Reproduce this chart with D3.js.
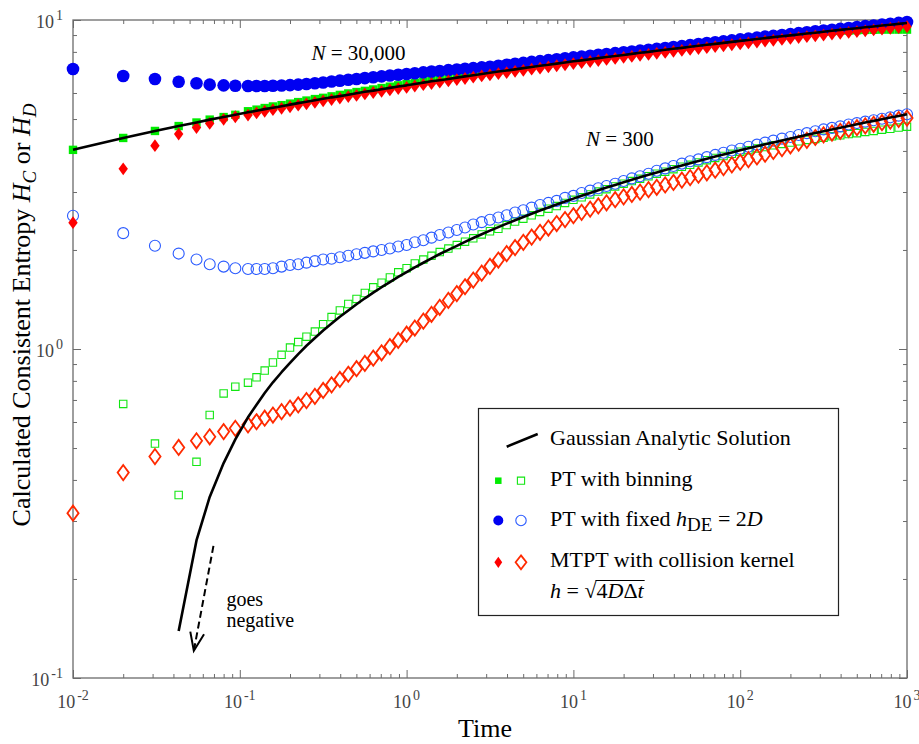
<!DOCTYPE html>
<html>
<head>
<meta charset="utf-8">
<script src="https://cdn.jsdelivr.net/npm/d3@7"></script>
<style>
  html, body { margin: 0; padding: 0; background: #fff; }
  svg { display: block; }
  svg text { font-family: "Liberation Serif", serif; }
</style>
</head>
<body>
<svg id="chart" width="919" height="744" font-family="Liberation Serif, serif"></svg>
<script>
// ---- data -------------------------------------------------------------
const time = [
  0.01, 0.02, 0.031, 0.043, 0.055, 0.066, 0.08, 0.094,
  0.112, 0.126, 0.141, 0.158, 0.178, 0.2, 0.224, 0.251, 0.282, 0.316,
  0.355, 0.398, 0.447, 0.501, 0.562, 0.631, 0.708, 0.794, 0.891, 1,
  1.12, 1.26, 1.41, 1.58, 1.78, 2, 2.24, 2.51, 2.82, 3.16,
  3.55, 3.98, 4.47, 5.01, 5.62, 6.31, 7.08, 7.94, 8.91, 10,
  11.2, 12.6, 14.1, 15.8, 17.8, 20, 22.4, 25.1, 28.2, 31.6,
  35.5, 39.8, 44.7, 50.1, 56.2, 63.1, 70.8, 79.4, 89.1, 100,
  112, 126, 141, 158, 178, 200, 224, 251, 282, 316,
  355, 398, 447, 501, 562, 631, 708, 794, 891, 1000
];

// Gaussian analytic solution, N = 30,000 and N = 300
const gaussHi = [
  4.03, 4.38, 4.60, 4.76, 4.88, 4.98, 5.07, 5.15,
  5.24, 5.30, 5.36, 5.41, 5.47, 5.53, 5.59, 5.64, 5.70, 5.76,
  5.82, 5.87, 5.93, 5.99, 6.05, 6.10, 6.16, 6.22, 6.28, 6.33,
  6.39, 6.45, 6.51, 6.56, 6.62, 6.68, 6.74, 6.79, 6.85, 6.91,
  6.97, 7.02, 7.08, 7.14, 7.20, 7.26, 7.31, 7.37, 7.43, 7.49,
  7.54, 7.60, 7.66, 7.72, 7.77, 7.83, 7.89, 7.95, 8.00, 8.06,
  8.12, 8.18, 8.23, 8.29, 8.35, 8.41, 8.46, 8.52, 8.58, 8.64,
  8.69, 8.75, 8.81, 8.87, 8.92, 8.98, 9.04, 9.10, 9.15, 9.21,
  9.27, 9.33, 9.39, 9.44, 9.50, 9.56, 9.62, 9.67, 9.73, 9.79
];
const gaussLo = [
  null, null, null, 0.139, 0.262, 0.355, 0.450, 0.531,
  0.620, 0.677, 0.735, 0.792, 0.850, 0.907, 0.965, 1.023, 1.080, 1.138,
  1.195, 1.253, 1.310, 1.368, 1.426, 1.483, 1.541, 1.598, 1.656, 1.713,
  1.771, 1.829, 1.886, 1.944, 2.001, 2.059, 2.116, 2.174, 2.232, 2.289,
  2.347, 2.404, 2.462, 2.519, 2.577, 2.635, 2.692, 2.750, 2.807, 2.865,
  2.922, 2.980, 3.038, 3.095, 3.153, 3.210, 3.268, 3.325, 3.383, 3.441,
  3.498, 3.556, 3.613, 3.671, 3.728, 3.786, 3.844, 3.901, 3.959, 4.016,
  4.074, 4.131, 4.189, 4.246, 4.304, 4.362, 4.419, 4.477, 4.534, 4.592,
  4.650, 4.707, 4.765, 4.822, 4.880, 4.937, 4.995, 5.052, 5.110, 5.167
];

// PT with binning
const binningHi = [
  4.03, 4.38, 4.60, 4.76, 4.88, 4.98, 5.07, 5.15,
  5.28, 5.34, 5.40, 5.46, 5.51, 5.57, 5.63, 5.69, 5.75, 5.80,
  5.86, 5.92, 5.98, 6.04, 6.09, 6.15, 6.21, 6.27, 6.33, 6.38,
  6.44, 6.50, 6.56, 6.62, 6.67, 6.73, 6.79, 6.85, 6.91, 6.96,
  7.02, 7.08, 7.14, 7.20, 7.25, 7.31, 7.37, 7.43, 7.49, 7.54,
  7.60, 7.66, 7.72, 7.78, 7.84, 7.89, 7.95, 8.01, 8.07, 8.13,
  8.18, 8.24, 8.30, 8.36, 8.41, 8.47, 8.53, 8.59, 8.65, 8.71,
  8.76, 8.82, 8.88, 8.94, 9.00, 9.05, 9.11, 9.17, 9.19, 9.21,
  9.24, 9.27, 9.29, 9.31, 9.33, 9.34, 9.35, 9.35, 9.35, 9.35
];
const binningLo = [
  null, 0.681, 0.516, 0.360, 0.454, 0.630, 0.733, 0.768,
  0.79, 0.82, 0.86, 0.91, 0.96, 1.01, 1.05, 1.09, 1.13, 1.19,
  1.25, 1.31, 1.37, 1.42, 1.48, 1.54, 1.59, 1.65, 1.71, 1.76,
  1.82, 1.87, 1.92, 1.97, 2.02, 2.07, 2.12, 2.17, 2.23, 2.28,
  2.32, 2.38, 2.44, 2.49, 2.55, 2.61, 2.67, 2.72, 2.78, 2.84,
  2.89, 2.95, 3.01, 3.06, 3.12, 3.18, 3.24, 3.29, 3.35, 3.41,
  3.46, 3.52, 3.58, 3.63, 3.69, 3.75, 3.81, 3.86, 3.92, 3.98,
  4.02, 4.07, 4.11, 4.16, 4.20, 4.24, 4.28, 4.32, 4.35, 4.39,
  4.43, 4.46, 4.50, 4.53, 4.57, 4.60, 4.64, 4.67, 4.71, 4.74
];

// PT with fixed h_DE = 2D
const fixedHi = [
  7.10, 6.76, 6.62, 6.49, 6.42, 6.36, 6.33, 6.31,
  6.30, 6.30, 6.30, 6.31, 6.32, 6.34, 6.36, 6.39, 6.42, 6.46,
  6.50, 6.54, 6.58, 6.62, 6.66, 6.70, 6.74, 6.78, 6.82, 6.85,
  6.89, 6.93, 6.97, 7.00, 7.04, 7.07, 7.11, 7.14, 7.18, 7.21,
  7.26, 7.31, 7.36, 7.41, 7.46, 7.50, 7.55, 7.60, 7.65, 7.70,
  7.74, 7.79, 7.84, 7.88, 7.93, 7.98, 8.02, 8.07, 8.12, 8.17,
  8.22, 8.28, 8.33, 8.39, 8.45, 8.51, 8.56, 8.61, 8.67, 8.73,
  8.78, 8.84, 8.90, 8.95, 9.00, 9.06, 9.12, 9.18, 9.24, 9.29,
  9.34, 9.40, 9.46, 9.52, 9.58, 9.62, 9.68, 9.74, 9.80, 9.86
];
const fixedLo = [
  2.54, 2.25, 2.06, 1.95, 1.87, 1.81, 1.78, 1.76,
  1.75, 1.75, 1.75, 1.76, 1.78, 1.80, 1.81, 1.83, 1.85, 1.87,
  1.88, 1.90, 1.92, 1.94, 1.96, 1.98, 2.00, 2.02, 2.05, 2.07,
  2.11, 2.14, 2.18, 2.22, 2.26, 2.30, 2.34, 2.39, 2.43, 2.47,
  2.51, 2.55, 2.60, 2.64, 2.69, 2.74, 2.78, 2.82, 2.88, 2.92,
  2.98, 3.03, 3.08, 3.13, 3.18, 3.24, 3.30, 3.35, 3.41, 3.48,
  3.54, 3.60, 3.66, 3.72, 3.77, 3.83, 3.89, 3.95, 4.01, 4.06,
  4.12, 4.18, 4.24, 4.30, 4.36, 4.41, 4.47, 4.53, 4.59, 4.65,
  4.70, 4.75, 4.81, 4.86, 4.91, 4.96, 5.01, 5.06, 5.12, 5.17
];

// MTPT with collision kernel
const kernelHi = [
  2.42, 3.53, 4.15, 4.50, 4.71, 4.85, 4.99, 5.08,
  5.14, 5.22, 5.28, 5.34, 5.39, 5.45, 5.51, 5.56, 5.62, 5.68,
  5.73, 5.79, 5.85, 5.90, 5.96, 6.02, 6.07, 6.13, 6.19, 6.24,
  6.30, 6.36, 6.41, 6.47, 6.53, 6.59, 6.64, 6.70, 6.76, 6.81,
  6.87, 6.92, 6.98, 7.03, 7.09, 7.14, 7.20, 7.26, 7.31, 7.37,
  7.42, 7.48, 7.53, 7.59, 7.64, 7.70, 7.75, 7.81, 7.86, 7.92,
  7.97, 8.03, 8.08, 8.14, 8.19, 8.24, 8.30, 8.35, 8.41, 8.46,
  8.52, 8.57, 8.63, 8.68, 8.73, 8.79, 8.84, 8.90, 8.95, 9.00,
  9.06, 9.11, 9.17, 9.22, 9.27, 9.33, 9.38, 9.44, 9.49, 9.54
];
const kernelLo = [
  0.317, 0.421, 0.471, 0.502, 0.526, 0.541, 0.561, 0.574,
  0.588, 0.601, 0.616, 0.630, 0.645, 0.661, 0.676, 0.697, 0.718, 0.748,
  0.778, 0.808, 0.838, 0.871, 0.904, 0.938, 0.974, 1.017, 1.062, 1.109,
  1.158, 1.215, 1.275, 1.339, 1.405, 1.474, 1.546, 1.620, 1.700, 1.783,
  1.864, 1.950, 2.033, 2.110, 2.188, 2.263, 2.332, 2.406, 2.474, 2.541,
  2.603, 2.662, 2.721, 2.782, 2.843, 2.900, 2.949, 2.999, 3.050, 3.101,
  3.153, 3.207, 3.261, 3.319, 3.375, 3.432, 3.495, 3.560, 3.627, 3.696,
  3.764, 3.836, 3.909, 3.986, 4.065, 4.146, 4.227, 4.308, 4.394, 4.478,
  4.534, 4.589, 4.647, 4.705, 4.765, 4.819, 4.873, 4.928, 4.984, 5.036
];

const xTickExponents = ["-2", "-1", "0", "1", "2", "3"];
const yTickExponents = ["-1", "0", "1"];

// ---- layout -----------------------------------------------------------
const W = 919, H = 744;
const plot = { left: 73, right: 907, top: 20, bottom: 678 };
const serif = "Liberation Serif, serif";
const axisColor = "#6b6b6b";
const colors = {
  greenFill: "#00ec00", greenLine: "#12e612",
  blueFill: "#0000f2", blueLine: "#2b5bff",
  redFill: "#ff0000", redLine: "#ff2a00"
};

const x = d3.scaleLog().domain([0.01, 1000]).range([plot.left, plot.right]);
const y = d3.scaleLog().domain([0.1, 10]).range([plot.bottom, plot.top]);

const svg = d3.select("#chart");
svg.append("rect").attr("width", W).attr("height", H).attr("fill", "#fff");

// ---- axes: box with inward ticks on all four sides ---------------------
const isMajor = v => Math.abs(Math.log10(v) - Math.round(Math.log10(v))) < 1e-6;
const xMajor = x.ticks().filter(isMajor), xMinor = x.ticks().filter(v => !isMajor(v));
const yMajor = y.ticks().filter(isMajor), yMinor = y.ticks().filter(v => !isMajor(v));

function tickRow(axisFn, scale, values, len, tx, ty) {
  svg.append("g")
    .attr("transform", `translate(${tx},${ty})`)
    .call(axisFn(scale).tickValues(values).tickSize(len).tickFormat(""))
    .call(g => {
      g.select(".domain").remove();
      g.selectAll("text").remove();
      g.selectAll("line").attr("stroke", axisColor).attr("stroke-width", 1);
    });
}
[[xMinor, 4], [xMajor, 8]].forEach(([vals, len]) => {
  tickRow(d3.axisTop, x, vals, len, 0, plot.bottom);
  tickRow(d3.axisBottom, x, vals, len, 0, plot.top);
});
[[yMinor, 4], [yMajor, 8]].forEach(([vals, len]) => {
  tickRow(d3.axisRight, y, vals, len, plot.left, 0);
  tickRow(d3.axisLeft, y, vals, len, plot.right, 0);
});
svg.append("rect")
  .attr("x", plot.left).attr("y", plot.top)
  .attr("width", plot.right - plot.left).attr("height", plot.bottom - plot.top)
  .attr("fill", "none").attr("stroke", axisColor).attr("stroke-width", 1.3);

// tick labels: 10 with a raised exponent
function powerLabel(exp, anchor) {
  const t = svg.append("text").attr("text-anchor", anchor).attr("fill", "#444");
  t.append("tspan").attr("font-size", 18).text("10");
  t.append("tspan").attr("font-size", 14).attr("dx", 2).attr("dy", -8).text(exp);
  return t;
}
xMajor.forEach((v, i) => {
  powerLabel(xTickExponents[i], "middle").attr("x", x(v)).attr("y", 708);
});
yMajor.forEach((v, i) => {
  powerLabel(yTickExponents[i], "end").attr("x", 63).attr("y", y(v) + 8);
});

// axis titles
svg.append("text").attr("x", 485).attr("y", 737).attr("text-anchor", "middle")
  .attr("font-size", 26).attr("fill", "#000").text("Time");

const yTitle = svg.append("text")
  .attr("transform", "translate(30,315) rotate(-90)")
  .attr("text-anchor", "middle").attr("font-size", 26).attr("fill", "#000");
yTitle.append("tspan").text("Calculated Consistent Entropy ");
yTitle.append("tspan").attr("font-style", "italic").text("H");
yTitle.append("tspan").attr("font-style", "italic").attr("font-size", 19).attr("dy", 6).text("C");
yTitle.append("tspan").attr("dy", -6).text(" or ");
yTitle.append("tspan").attr("font-style", "italic").text("H");
yTitle.append("tspan").attr("font-style", "italic").attr("font-size", 19).attr("dy", 6).text("D");

// ---- marker shapes -------------------------------------------------------
const circlePath = r => d3.symbol(d3.symbolCircle, Math.PI * r * r)();
const squarePath = s => d3.symbol(d3.symbolSquare, s * s)();
const diamondPath = (hw, hh) => `M0,${-hh}L${hw},0L0,${hh}L${-hw},0Z`;

const markerStyles = {
  binningHi: { d: squarePath(8.4), fill: colors.greenFill, stroke: "none", sw: 0 },
  binningLo: { d: squarePath(7.4), fill: "none", stroke: colors.greenLine, sw: 1.1 },
  fixedHi:   { d: circlePath(6.3), fill: colors.blueFill, stroke: "none", sw: 0 },
  fixedLo:   { d: circlePath(5.5), fill: "none", stroke: colors.blueLine, sw: 1.1 },
  kernelHi:  { d: diamondPath(4.7, 6.4), fill: colors.redFill, stroke: "none", sw: 0 },
  kernelLo:  { d: diamondPath(5.6, 7.6), fill: "none", stroke: colors.redLine, sw: 1.8 }
};

function drawMarkers(values, style) {
  const pts = time.map((t, i) => [t, values[i]]).filter(d => d[1] != null);
  svg.append("g").selectAll("path").data(pts).join("path")
    .attr("transform", d => `translate(${x(d[0])},${y(d[1])})`)
    .attr("d", style.d)
    .attr("fill", style.fill)
    .attr("stroke", style.stroke)
    .attr("stroke-width", style.sw);
}

drawMarkers(binningLo, markerStyles.binningLo);
drawMarkers(binningHi, markerStyles.binningHi);
drawMarkers(fixedLo, markerStyles.fixedLo);
drawMarkers(fixedHi, markerStyles.fixedHi);
drawMarkers(kernelLo, markerStyles.kernelLo);
drawMarkers(kernelHi, markerStyles.kernelHi);

// ---- analytic curves -----------------------------------------------------
const line = d3.line()
  .defined(d => d[1] != null)
  .x(d => x(d[0])).y(d => y(d[1]));
[gaussHi, gaussLo].forEach(vals => {
  svg.append("path")
    .attr("d", line(time.map((t, i) => [t, vals[i]])))
    .attr("fill", "none").attr("stroke", "#000").attr("stroke-width", 2.6)
    .attr("stroke-linejoin", "round");
});

// ---- annotations -----------------------------------------------------------
function nLabel(t, v, value) {
  const txt = svg.append("text").attr("x", x(t)).attr("y", y(v))
    .attr("font-size", 21).attr("fill", "#000");
  txt.append("tspan").attr("font-style", "italic").text("N");
  txt.append("tspan").text(" = " + value);
}
nLabel(0.269, 7.55, "30,000");
nLabel(11.9, 4.14, "300");

// dashed arrow: the analytic N = 300 curve continues below zero
const arrowFrom = [0.0695, 0.252], arrowTo = [0.053, 0.121];
const ax0 = x(arrowFrom[0]), ay0 = y(arrowFrom[1]);
const ax1 = x(arrowTo[0]), ay1 = y(arrowTo[1]);
svg.append("line")
  .attr("x1", ax0).attr("y1", ay0).attr("x2", ax1).attr("y2", ay1)
  .attr("stroke", "#000").attr("stroke-width", 2).attr("stroke-dasharray", "7,4");
{
  const dx = ax0 - ax1, dy = ay0 - ay1, len = Math.hypot(dx, dy);
  const ux = dx / len, uy = dy / len, a = 21 * Math.PI / 180, L = 19.5;
  const rot = (s) => [ax1 + L * (ux * Math.cos(s) - uy * Math.sin(s)),
                      ay1 + L * (ux * Math.sin(s) + uy * Math.cos(s))];
  const w1 = rot(a), w2 = rot(-a);
  svg.append("path")
    .attr("d", `M${w1[0]},${w1[1]}L${ax1},${ay1}L${w2[0]},${w2[1]}`)
    .attr("fill", "none").attr("stroke", "#000").attr("stroke-width", 2);
}
const note = svg.append("text").attr("x", x(0.0832)).attr("y", y(0.1656))
  .attr("font-size", 20).attr("fill", "#000");
note.append("tspan").text("goes");
note.append("tspan").attr("x", x(0.0832)).attr("dy", 21).text("negative");

// ---- legend ----------------------------------------------------------------
const lg = svg.append("g");
lg.append("rect").attr("x", 478.5).attr("y", 408.5).attr("width", 360).attr("height", 207)
  .attr("fill", "#fff").attr("stroke", "#222").attr("stroke-width", 1.2);

const textX = 550, fs = 22;
lg.append("line").attr("x1", 506.7).attr("y1", 446.7).attr("x2", 537.7).attr("y2", 434)
  .attr("stroke", "#000").attr("stroke-width", 2.6);
lg.append("text").attr("x", textX).attr("y", 445).attr("font-size", fs).text("Gaussian Analytic Solution");

function legendPair(cy, filled, open, fillD, openD) {
  lg.append("path").attr("transform", `translate(498.3,${cy})`).attr("d", fillD)
    .attr("fill", filled.fill).attr("stroke", "none");
  lg.append("path").attr("transform", `translate(521,${cy})`).attr("d", openD)
    .attr("fill", "none").attr("stroke", open.stroke).attr("stroke-width", open.sw);
}
legendPair(480.7, markerStyles.binningHi, markerStyles.binningLo, squarePath(6.5), squarePath(7.2));
lg.append("text").attr("x", textX).attr("y", 486).attr("font-size", fs).text("PT with binning");

legendPair(520.5, markerStyles.fixedHi, markerStyles.fixedLo, circlePath(5), circlePath(5.2));
{
  const t = lg.append("text").attr("x", textX).attr("y", 526).attr("font-size", fs);
  t.append("tspan").text("PT with fixed ");
  t.append("tspan").attr("font-style", "italic").text("h");
  t.append("tspan").attr("font-size", 19).attr("dy", 5).text("DE");
  t.append("tspan").attr("dy", -5).text(" = 2");
  t.append("tspan").attr("font-style", "italic").text("D");
}

legendPair(562.3, markerStyles.kernelHi, markerStyles.kernelLo, diamondPath(3.9, 5.6), diamondPath(5.4, 6.9));
lg.append("text").attr("x", textX).attr("y", 567).attr("font-size", fs).text("MTPT with collision kernel");
{
  const t = lg.append("text").attr("x", textX).attr("y", 598).attr("font-size", fs);
  t.append("tspan").attr("font-style", "italic").text("h");
  t.append("tspan").text(" = \u221A");
  t.append("tspan").text("4");
  t.append("tspan").attr("font-style", "italic").text("D");
  t.append("tspan").text("\u0394");
  t.append("tspan").attr("font-style", "italic").text("t");
  t.attr("font-family", serif);
  const node = t.node();
  const n = node.getNumberOfChars();
  const startX = node.getStartPositionOfChar(n - 4).x - 1;
  const endX = node.getEndPositionOfChar(n - 1).x + 1;
  lg.append("line").attr("x1", startX).attr("x2", endX)
    .attr("y1", 580.5).attr("y2", 580.5).attr("stroke", "#000").attr("stroke-width", 1.2);
}

// one typeface for every label
svg.selectAll("text").attr("font-family", serif);
</script>
</body>
</html>
